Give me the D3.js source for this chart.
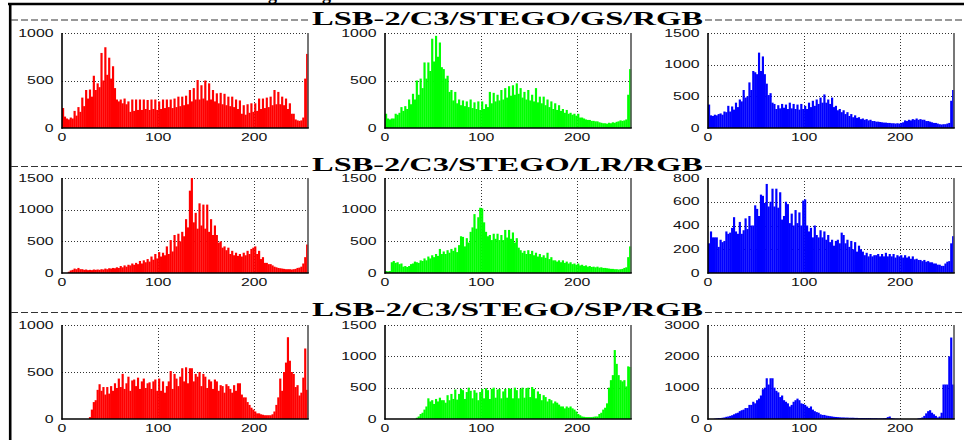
<!DOCTYPE html>
<html>
<head>
<meta charset="utf-8">
<script src="https://cdn.jsdelivr.net/npm/d3@7"></script>
<style>
  html, body { margin: 0; padding: 0; background: #fff; }
  svg { display: block; }
</style>
</head>
<body>
<svg id="chart" width="964" height="440"></svg>
<script>
// histogram counts, one value per pair of grey levels (0-1, 2-3, ... 254-255)
const gsRed = [
  210,120,100,90,110,100,180,130,220,170,
  320,230,400,310,405,330,550,400,470,430,
  790,500,850,560,740,520,650,420,300,280,
  300,260,310,250,280,170,300,180,300,190,
  300,190,300,200,295,190,300,200,300,190,
  280,200,300,210,300,220,300,210,310,220,
  330,230,330,240,340,250,400,280,420,300,
  505,300,450,310,500,290,470,300,400,280,
  365,260,370,250,360,240,330,230,330,220,
  300,200,290,150,240,140,250,160,260,170,
  260,180,310,200,310,210,320,220,330,240,
  400,250,380,250,330,240,310,200,260,150,
  150,90,80,75,80,110,520,780
];
const gsGreen = [
  150,100,90,100,100,150,140,160,220,180,
  230,200,300,250,360,300,500,350,520,420,
  690,520,690,600,940,700,970,750,900,640,
  620,520,550,380,400,290,380,260,300,240,
  290,230,280,220,300,210,270,200,280,190,
  280,200,250,220,380,260,370,280,350,290,
  400,300,420,320,440,340,450,350,470,360,
  420,320,380,300,400,290,350,280,420,270,
  330,260,330,240,300,220,280,200,260,190,
  240,180,200,160,190,150,160,140,150,130,
  150,110,110,100,90,85,85,75,75,70,
  70,60,55,50,50,45,55,50,60,55,
  65,70,80,75,80,90,350,620
];
const gsBlue = [
  370,200,190,210,200,220,230,210,260,250,
  350,260,340,290,400,330,450,420,600,480,
  500,720,600,900,880,850,1190,900,1130,850,
  700,520,550,400,380,300,360,310,380,320,
  370,300,400,310,380,300,370,290,380,300,
  350,300,400,330,430,350,450,380,480,400,
  530,400,450,380,480,330,350,280,300,250,
  280,220,250,190,220,170,200,160,170,140,
  150,130,140,120,130,110,110,100,100,95,
  90,85,85,80,80,75,75,70,75,70,
  80,90,120,110,130,120,140,130,150,130,
  140,130,130,110,110,100,90,80,80,70,
  60,55,60,60,70,80,430,600
];
const lrRed = [
  0,0,0,20,40,50,70,60,80,60,
  60,50,55,45,50,45,55,50,55,50,
  60,55,70,60,75,70,80,75,90,80,
  110,90,120,100,130,120,150,130,160,140,
  190,150,200,170,220,180,260,210,300,230,
  330,260,320,280,420,300,520,340,600,420,
  620,500,650,580,850,720,1300,1500,800,950,
  700,1100,750,1080,700,1080,650,850,600,750,
  600,480,500,400,420,360,400,300,350,280,
  320,270,300,260,320,280,350,300,380,400,
  420,300,350,220,250,160,160,140,140,120,
  100,90,80,75,70,65,60,60,60,55,
  60,65,80,85,100,150,250,450
];
const lrGreen = [
  30,25,30,170,190,160,170,140,150,100,
  110,95,110,140,150,180,170,160,200,190,
  230,200,260,230,280,250,300,270,380,300,
  340,300,360,320,380,350,400,330,440,580,
  570,420,550,480,650,720,930,700,880,1030,
  1020,800,650,580,600,520,620,540,620,520,
  600,520,680,560,680,540,640,480,550,400,
  360,320,350,300,360,300,350,280,320,260,
  300,250,280,240,320,220,250,200,200,180,
  200,170,200,160,180,150,170,140,150,130,
  150,120,130,110,120,100,110,95,100,90,
  100,85,90,80,80,75,70,65,65,60,
  60,55,60,65,80,90,250,420
];
const lrBlue = [
  250,350,300,300,300,220,280,260,270,350,
  330,340,380,470,350,330,430,330,360,460,
  370,480,400,400,570,540,480,660,650,590,
  750,560,600,710,560,710,550,680,450,480,
  600,580,420,500,400,530,420,510,400,610,
  620,400,350,380,300,400,320,300,360,300,
  350,280,320,260,280,230,270,280,250,340,
  320,250,280,220,270,200,260,180,230,200,
  180,150,170,140,160,140,150,150,160,140,
  160,140,170,140,160,140,160,130,150,140,
  150,130,150,130,140,120,140,115,120,110,
  110,100,110,95,100,90,90,80,80,70,
  70,60,60,80,95,100,250,310
];
const spRed = [
  0,0,0,0,0,0,0,0,0,0,
  0,0,0,0,20,100,180,200,310,370,
  300,340,260,340,270,350,300,380,330,430,
  340,480,320,380,450,300,410,420,350,440,
  320,400,430,330,380,390,320,400,420,300,
  430,300,400,280,350,400,510,320,480,430,
  350,450,540,400,550,380,540,540,400,480,
  450,500,350,480,450,330,420,400,320,420,
  400,300,360,350,280,370,350,320,280,360,
  300,380,380,260,230,230,180,150,120,100,
  80,60,60,50,45,40,40,40,40,50,
  80,150,230,430,300,500,600,870,620,500,
  480,340,360,250,280,440,750,310
];
const spGreen = [
  0,0,0,0,0,0,0,0,0,0,
  0,0,0,0,0,0,20,40,80,100,
  150,200,330,280,300,240,320,280,340,300,
  300,260,380,300,400,320,470,310,400,480,
  460,320,430,500,450,330,460,420,300,430,
  480,330,490,460,320,480,500,340,470,480,
  330,440,480,340,490,480,330,500,460,330,
  480,500,340,490,500,350,510,480,330,440,
  400,300,380,350,280,320,300,250,280,260,
  230,200,200,170,200,180,200,170,150,120,
  80,60,40,35,30,30,30,30,35,40,
  40,80,100,150,180,250,500,620,700,1100,
  880,700,620,600,620,520,840,830
];
const spBlue = [
  0,0,0,10,20,30,30,40,50,70,
  80,100,120,150,180,200,250,280,300,350,
  350,450,450,550,500,600,650,750,950,1000,
  1300,1100,1300,1300,1000,900,850,700,750,600,
  550,500,400,450,550,600,650,600,500,480,
  450,400,350,400,300,250,220,200,150,130,
  130,110,100,90,80,70,65,60,55,50,
  50,45,45,40,40,40,35,35,30,30,
  30,30,30,30,30,25,25,25,20,20,
  20,25,30,60,80,30,20,10,10,5,
  0,0,0,0,0,0,0,0,0,20,
  30,50,100,180,250,280,200,150,100,50,
  80,200,1100,1100,1100,2000,2600,1100
];

const rowTitles = ["LSB-2/C3/STEGO/GS/RGB", "LSB-2/C3/STEGO/LR/RGB", "LSB-2/C3/STEGO/SP/RGB"];
const rowSeries = [[gsRed, gsGreen, gsBlue], [lrRed, lrGreen, lrBlue], [spRed, spGreen, spBlue]];
const rowYTicks = [
  [[0, 500, 1000], [0, 500, 1000], [0, 500, 1000, 1500]],
  [[0, 500, 1000, 1500], [0, 500, 1000, 1500], [0, 200, 400, 600, 800]],
  [[0, 500, 1000], [0, 500, 1000, 1500], [0, 1000, 2000, 3000]]
];
const xTicks = [0, 100, 200];
const channelColors = ["#ff0000", "#00ff00", "#0000ff"];
const levelsPerBar = 2;

// layout
const colLeft = [62, 385, 708];
const plotW = 246;
const rowTop = [33, 178, 325];
const plotH = [95, 95, 94];
const titleBase = [25, 171, 316];
const sepY = [20, 166.5, 312.5];
const titleX = 312, titleLen = 391;

const svg = d3.select('#chart');
svg.append('rect').attr('width', 964).attr('height', 440).attr('fill', '#fff');

// outer frame (top and left edges of the figure page)
svg.append('line').attr('x1', 8).attr('x2', 964).attr('y1', 4).attr('y2', 4)
  .attr('stroke', '#000').attr('stroke-width', 2.6);
svg.append('line').attr('x1', 10.2).attr('x2', 10.2).attr('y1', 3).attr('y2', 440)
  .attr('stroke', '#000').attr('stroke-width', 2.6);

// bits of the caption above the frame, only the descenders are visible
svg.selectAll('text.cap')
  .data([268, 322])
  .join('text')
  .classed('cap', true)
  .attr('x', d => d)
  .attr('y', -0.5)
  .attr('font-family', 'Liberation Serif')
  .attr('font-weight', 'bold')
  .attr('font-size', 18)
  .text('g');

rowTitles.forEach((title, r) => {
  // dashed separators on each side of the row title
  svg.append('line')
    .attr('x1', 11).attr('x2', titleX - 2)
    .attr('y1', sepY[r]).attr('y2', sepY[r])
    .attr('stroke', '#333').attr('stroke-width', 1.1)
    .attr('stroke-dasharray', '7,3');
  svg.append('line')
    .attr('x1', titleX + titleLen + 2).attr('x2', 964)
    .attr('y1', sepY[r]).attr('y2', sepY[r])
    .attr('stroke', '#333').attr('stroke-width', 1.1)
    .attr('stroke-dasharray', '7,3');

  svg.append('text')
    .attr('x', titleX)
    .attr('y', titleBase[r])
    .attr('font-family', 'Liberation Serif')
    .attr('font-weight', 'bold')
    .attr('font-size', 19)
    .attr('textLength', titleLen)
    .attr('lengthAdjust', 'spacingAndGlyphs')
    .attr('fill', '#000')
    .text(title);

  rowSeries[r].forEach((values, c) => {
    const ticks = rowYTicks[r][c];
    const left = colLeft[c], top = rowTop[r], h = plotH[r];

    const x = d3.scaleLinear().domain([0, 256]).range([left, left + plotW]);
    const y = d3.scaleLinear().domain([0, ticks[ticks.length - 1]]).range([top + h, top]);

    const g = svg.append('g');

    // dotted grid (top edge is the grid line at the max tick)
    g.selectAll('line.hgrid')
      .data(ticks.slice(1))
      .join('line')
      .classed('hgrid', true)
      .attr('x1', left).attr('x2', left + plotW)
      .attr('y1', d => Math.round(y(d)) + 0.5).attr('y2', d => Math.round(y(d)) + 0.5)
      .attr('stroke', '#333').attr('stroke-width', 1)
      .attr('stroke-dasharray', '1,2');
    g.selectAll('line.vgrid')
      .data(xTicks.slice(1))
      .join('line')
      .classed('vgrid', true)
      .attr('x1', d => Math.round(x(d)) + 0.5).attr('x2', d => Math.round(x(d)) + 0.5)
      .attr('y1', top).attr('y2', top + h)
      .attr('stroke', '#333').attr('stroke-width', 1)
      .attr('stroke-dasharray', '1,2');

    // histogram bars
    const barW = x(levelsPerBar) - x(0);
    g.selectAll('rect.bar')
      .data(values)
      .join('rect')
      .classed('bar', true)
      .attr('x', (d, i) => x(i * levelsPerBar))
      .attr('y', d => y(d))
      .attr('width', barW + 0.25)
      .attr('height', d => y(0) - y(d))
      .attr('fill', channelColors[c]);

    // axes: solid left / bottom, grey right edge
    g.append('line')
      .attr('x1', left + plotW).attr('x2', left + plotW)
      .attr('y1', top).attr('y2', top + h)
      .attr('stroke', '#555').attr('stroke-width', 1.6);
    g.append('line')
      .attr('x1', left - 0.5).attr('x2', left + plotW + 0.8)
      .attr('y1', top + h).attr('y2', top + h)
      .attr('stroke', '#000').attr('stroke-width', 1.6);
    g.append('line')
      .attr('x1', left).attr('x2', left)
      .attr('y1', top).attr('y2', top + h + 0.8)
      .attr('stroke', '#000').attr('stroke-width', 1.6);

    // tick labels (stretched wide like the original bitmap font)
    g.selectAll('text.ylab')
      .data(ticks)
      .join('text')
      .classed('ylab', true)
      .attr('x', left - 8.5)
      .attr('y', d => y(d))
      .attr('dy', '0.36em')
      .attr('text-anchor', 'end')
      .attr('font-family', 'Liberation Sans')
      .attr('font-size', 10)
      .attr('fill', '#111')
      .attr('textLength', d => String(d).length * 8.8)
      .attr('lengthAdjust', 'spacingAndGlyphs')
      .text(d => d);

    g.selectAll('text.xlab')
      .data(xTicks)
      .join('text')
      .classed('xlab', true)
      .attr('x', d => x(d))
      .attr('y', top + h + 12.5)
      .attr('text-anchor', 'middle')
      .attr('font-family', 'Liberation Sans')
      .attr('font-size', 10)
      .attr('fill', '#111')
      .attr('textLength', d => String(d).length * 8.8)
      .attr('lengthAdjust', 'spacingAndGlyphs')
      .text(d => d);
  });
});
</script>
</body>
</html>
